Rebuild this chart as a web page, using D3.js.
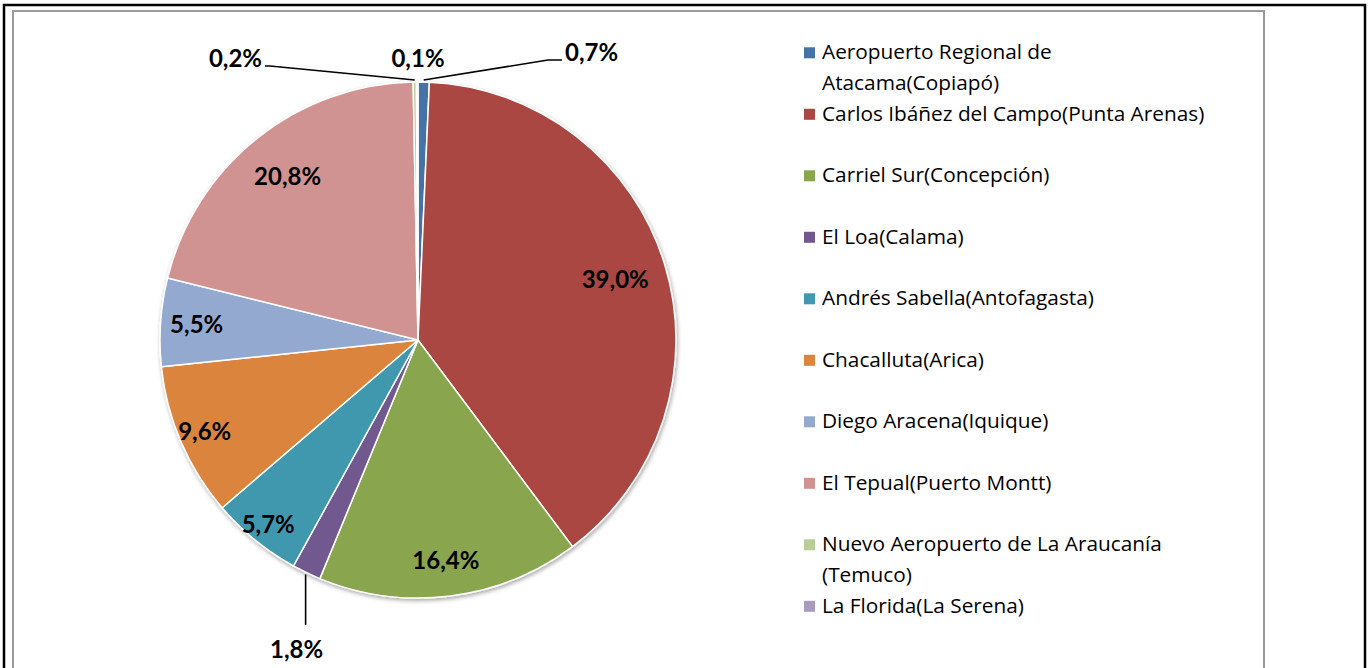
<!DOCTYPE html>
<html>
<head>
<meta charset="utf-8">
<script src="https://cdn.jsdelivr.net/npm/d3@7.9.0/dist/d3.min.js"></script>
<style>
  html, body { margin: 0; padding: 0; background: #fff; overflow: hidden; }
  svg { display: block; font-family: Lato, "Open Sans", sans-serif; }
</style>
</head>
<body>
<svg id="chart" width="1369" height="668"></svg>
<script>
// data
const airports = [
  'Aeropuerto Regional de Atacama(Copiapó)',
  'Carlos Ibáñez del Campo(Punta Arenas)',
  'Carriel Sur(Concepción)',
  'El Loa(Calama)',
  'Andrés Sabella(Antofagasta)',
  'Chacalluta(Arica)',
  'Diego Aracena(Iquique)',
  'El Tepual(Puerto Montt)',
  'Nuevo Aeropuerto de La Araucanía (Temuco)',
  'La Florida(La Serena)'
];
const shares = [0.7, 39.0, 16.4, 1.8, 5.7, 9.6, 5.5, 20.8, 0.2, 0.1];
const sliceColors = ['#4572A7', '#AA4643', '#89A54E', '#71588F', '#4198AF',
                     '#DB843D', '#93A9CF', '#D19392', '#B9CD96', '#A99BBD'];

// layout
const cx = 418, cy = 340, R = 258;
const insideRadius = [null, 0.80, 0.86, null, 0.92, 0.90, 0.86, 0.81, null, null];
// small slices get their label outside with a leader line (offsets from pie centre)
const outside = {
  0: { elbow: [130, -280], end: [144, -280], text: [147, -279], anchor: 'start' },
  3: { vertical: 285, text: [-9, 318], anchor: 'middle' },
  8: { elbow: [-148, -274], end: [-153, -274], text: [-156, -273], anchor: 'end' },
  9: { text: [0, -273], anchor: 'middle' }
};

const comma = d3.formatLocale({ decimal: ',', thousands: '.', grouping: [3], currency: ['', ''] });
const fmt = v => comma.format('.1f')(v) + '%';

const svg = d3.select('#chart');

// page frame
svg.append('rect')
  .attr('x', 13).attr('y', 11).attr('width', 1251).attr('height', 700)
  .attr('fill', 'none').attr('stroke', '#9a9a9a').attr('stroke-width', 2);
svg.append('path')
  .attr('d', 'M4,668 V5 H1365 V668')
  .attr('fill', 'none').attr('stroke', '#000').attr('stroke-width', 2.5);

const defs = svg.append('defs');
const shadow = defs.append('filter').attr('id', 'shadow')
  .attr('x', '-10%').attr('y', '-10%').attr('width', '120%').attr('height', '120%');
shadow.append('feDropShadow')
  .attr('dx', 1).attr('dy', 2).attr('stdDeviation', 2)
  .attr('flood-color', '#000').attr('flood-opacity', 0.35);

const pie = d3.pie().sort(null).value(d => d);
const arcs = pie(shares);
const arc = d3.arc().innerRadius(0).outerRadius(R);

const g = svg.append('g').attr('transform', `translate(${cx},${cy})`);

g.append('g').attr('filter', 'url(#shadow)')
  .selectAll('path')
  .data(arcs)
  .join('path')
  .attr('d', arc)
  .attr('fill', (d, i) => sliceColors[i])
  .attr('stroke', '#fff')
  .attr('stroke-width', 1.5)
  .attr('stroke-linejoin', 'round');

// labels
arcs.forEach((d, i) => {
  const mid = (d.startAngle + d.endAngle) / 2;
  if (insideRadius[i] !== null) {
    const r = R * insideRadius[i];
    const c = d3.arc().innerRadius(r).outerRadius(r).centroid(d);
    g.append('text')
      .attr('x', c[0]).attr('y', c[1])
      .attr('text-anchor', 'middle')
      .attr('dy', '0.36em')
      .attr('font-size', 24).attr('font-weight', 700)
      .attr('fill', '#000')
      .text(fmt(shares[i]));
    return;
  }
  const o = outside[i];
  const edge = [Math.sin(mid) * (R + 2), -Math.cos(mid) * (R + 2)];
  if (o.elbow) {
    g.append('path')
      .attr('d', d3.line()([edge, o.elbow, o.end]))
      .attr('fill', 'none').attr('stroke', '#000').attr('stroke-width', 1.6);
  }
  let tx = o.text[0];
  if (o.vertical) {
    g.append('line')
      .attr('x1', edge[0]).attr('y1', edge[1])
      .attr('x2', edge[0]).attr('y2', o.vertical)
      .attr('stroke', '#000').attr('stroke-width', 1.6);
    tx = edge[0] + o.text[0];
  }
  g.append('text')
    .attr('x', tx).attr('y', o.text[1])
    .attr('text-anchor', o.anchor)
    .attr('font-size', 24).attr('font-weight', 700)
    .attr('fill', '#000')
    .text(fmt(shares[i]));
});

// legend
const legend = svg.append('g')
  .attr('font-family', '"Open Sans", "Noto Sans", sans-serif')
  .attr('font-size', 20.8).attr('fill', '#000');
const probe = legend.append('text').text(airports[1]);
const wrapWidth = probe.node().getComputedTextLength() * 1.06;
probe.remove();

airports.forEach((name, i) => {
  const y = 59.3 + i * 61.5;
  legend.append('rect')
    .attr('x', 804).attr('y', y - 12).attr('width', 11).attr('height', 11)
    .attr('fill', sliceColors[i]);
  const t = legend.append('text').attr('x', 822).attr('y', y);
  // word wrap to legend width
  const words = name.split(' ');
  let line = [];
  let lineNo = 0;
  let tspan = t.append('tspan').attr('x', 822).attr('y', y);
  words.forEach(w => {
    line.push(w);
    tspan.text(line.join(' '));
    if (tspan.node().getComputedTextLength() > wrapWidth && line.length > 1) {
      line.pop();
      tspan.text(line.join(' '));
      line = [w];
      lineNo++;
      tspan = t.append('tspan').attr('x', 822).attr('y', y + lineNo * 30.5).text(w);
    }
  });
});
</script>
</body>
</html>
